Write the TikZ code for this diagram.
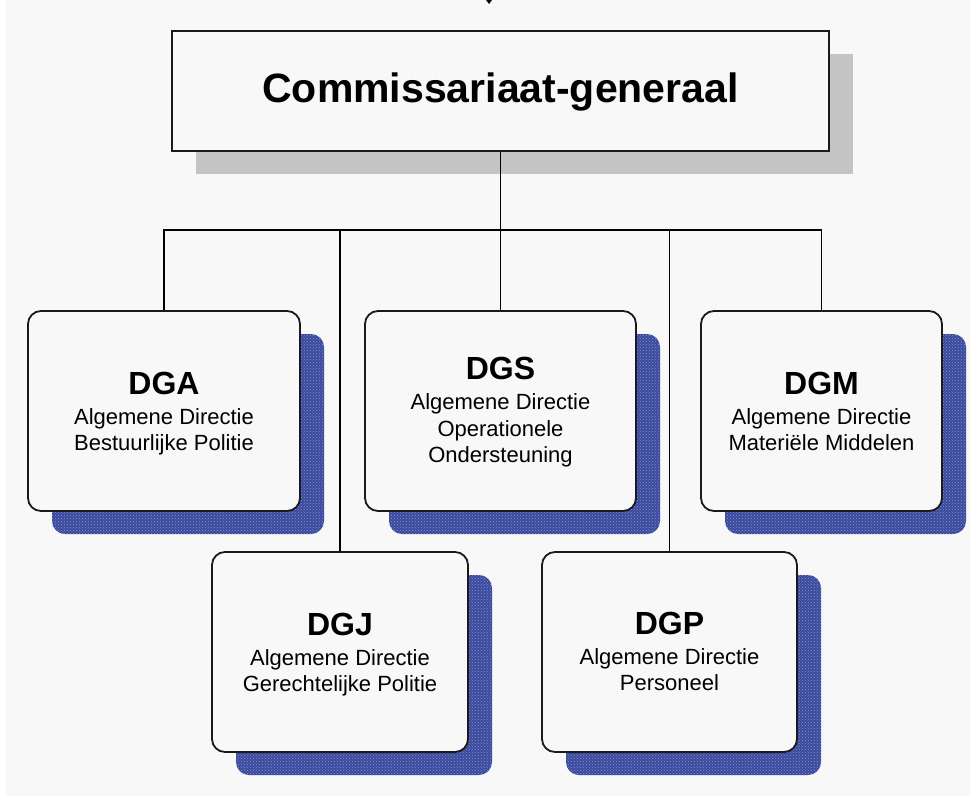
\documentclass[tikz,border=0pt]{standalone}
\usepackage{fontspec}
\setmainfont{Liberation Sans}
\usetikzlibrary{patterns}
\definecolor{bg}{HTML}{F8F8F8}
\definecolor{shblue}{HTML}{3A4A9E}
\definecolor{shgray}{HTML}{C4C4C4}
\definecolor{edge}{HTML}{1A1A1A}
\begin{document}
\begin{tikzpicture}[x=1pt,y=-1pt,
  unitbox/.style={draw=edge, line width=1.8pt, fill=bg, rounded corners=13pt,
    inner sep=0pt, minimum height=200pt},
  unitshadow/.style={fill=shblue, rounded corners=13pt,
    inner sep=0pt, minimum height=200pt, postaction={pattern=crosshatch dots, pattern color=white!40!shblue}},
  link/.style={draw=black, line width=1.3pt},
  ttl/.style={anchor=base, font=\fontsize{32}{36}\selectfont\bfseries, inner sep=0pt},
  sub/.style={anchor=base, font=\fontsize{22}{26}\selectfont, inner sep=0pt}
]
\useasboundingbox (0,0) rectangle (970,796);
\fill[bg] (0,0) rectangle (970,796);
\fill[white] (0,0) rectangle (6,796);
\fill[black] (486,0) -- (492,0) -- (489,4) -- cycle;

% top box
\node[fill=shgray, inner sep=0pt, minimum width=657pt, minimum height=120pt] (main-s) at (524.5,114) {};
\node[draw=edge, line width=1.8pt, fill=bg, inner sep=0pt, minimum width=657pt, minimum height=120pt] (main) at (500.5,91) {};
\node[anchor=base, inner sep=0pt, font=\fontsize{41}{45}\selectfont\bfseries] (main-t) at (500.5,102) {Commissariaat-generaal};

% shadows
\node[unitshadow, minimum width=272pt] (dga-s) at (188,434) {};
\node[unitshadow, minimum width=271pt] (dgs-s) at (524.5,434) {};
\node[unitshadow, minimum width=241pt] (dgm-s) at (845.5,434) {};
\node[unitshadow, minimum width=256pt] (dgj-s) at (364,675) {};
\node[unitshadow, minimum width=255pt] (dgp-s) at (693.5,675) {};

% boxes
\node[unitbox, minimum width=272pt] (dga) at (164,411) {};
\node[unitbox, minimum width=271pt] (dgs) at (500.5,411) {};
\node[unitbox, minimum width=241pt] (dgm) at (821.5,411) {};
\node[unitbox, minimum width=256pt] (dgj) at (340,652) {};
\node[unitbox, minimum width=255pt] (dgp) at (669.5,652) {};

% connectors
\coordinate (j) at (500.5,230);
\draw[link] (main.south) -- (j);
\draw[link] (dga.north) |- (dgm.north |- j) -- (dgm.north);
\draw[link] (dgs.north) -- (dgs.north |- j);
\draw[link] (dgj.north) -- (dgj.north |- j);
\draw[link] (dgp.north) -- (dgp.north |- j);

% texts
\node[ttl] (dga-t) at (164,394) {DGA};
\node[sub] (dga-1) at (164,424) {Algemene Directie};
\node[sub] (dga-2) at (164,450) {Bestuurlijke Politie};

\node[ttl] (dgs-t) at (500.5,379) {DGS};
\node[sub] (dgs-1) at (500.5,409) {Algemene Directie};
\node[sub] (dgs-2) at (500.5,436) {Operationele};
\node[sub] (dgs-3) at (500.5,462) {Ondersteuning};

\node[ttl] (dgm-t) at (821.5,394) {DGM};
\node[sub] (dgm-1) at (821.5,424) {Algemene Directie};
\node[sub] (dgm-2) at (821.5,450) {Materiële Middelen};

\node[ttl] (dgj-t) at (340,635) {DGJ};
\node[sub] (dgj-1) at (340,665) {Algemene Directie};
\node[sub] (dgj-2) at (340,691) {Gerechtelijke Politie};

\node[ttl] (dgp-t) at (669.5,634) {DGP};
\node[sub] (dgp-1) at (669.5,664) {Algemene Directie};
\node[sub] (dgp-2) at (669.5,690) {Personeel};
\end{tikzpicture}
\end{document}
